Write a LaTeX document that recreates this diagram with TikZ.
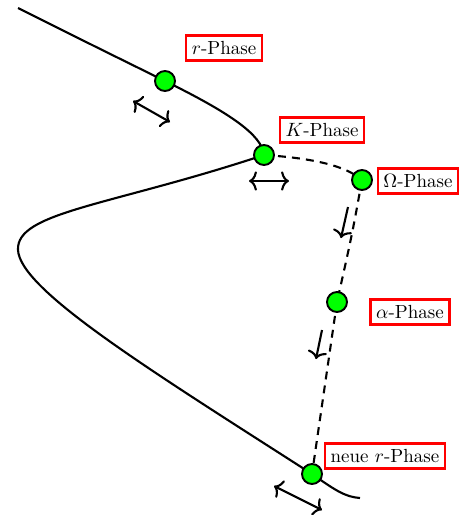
\documentclass[tikz,border=0pt]{standalone}
\usepackage{amsmath}
\usepackage{tikz}
\usetikzlibrary{arrows,arrows.meta}
\tikzstyle{phase} = [rectangle, draw=red, line width=1.3pt, fill=white, inner sep=3.3pt, font=\fontsize{10.8}{13}\selectfont]
\tikzstyle{state} = [circle, draw=black, line width=1.1pt, fill=green, minimum size=0.4cm, inner sep=0pt]
\tikzstyle{branch} = [line width=1.2pt]
\tikzstyle{jump} = [line width=1.2pt, dash pattern=on 4.5pt off 3.5pt]
\tikzstyle{arrow} = [line width=1.2pt, >={To[length=4.5pt,width=11pt]}]

\begin{document}
\begin{tikzpicture}[x=0.02cm, y=-0.02cm]
        \useasboundingbox (0,0) rectangle (462,515);
        \coordinate (rpt) at (165,81);
        \coordinate (kpt) at (264,155);
        \coordinate (opt) at (362,180);
        \coordinate (apt) at (337,302);
        \coordinate (npt) at (312,474);
        % solid S-curve and dashed jump, drawn first so the dots lie on top
        \draw [branch] (18,8) .. controls (90,44) .. (rpt)
                .. controls (230,113) and (262,135) .. (kpt)
                .. controls (110,206) and (16,212) .. (18,250)
                .. controls (20,290) and (150,370) .. (npt)
                .. controls (335,490) and (345,497) .. (360,498);
        \draw [jump] (kpt) .. controls (310,158) and (345,165) .. (opt);
        \draw [jump] (opt) .. controls (352,235) .. (apt);
        \draw [jump] (apt) -- (npt);
        \node(rdot) [state] at (rpt) {};
        \node(kdot) [state] at (kpt) {};
        \node(odot) [state] at (opt) {};
        \node(adot) [state] at (apt) {};
        \node(ndot) [state] at (npt) {};
        \node(rlab) [phase] at (224,48) {$r$-Phase};
        \node(klab) [phase] at (322,130) {$K$-Phase};
        \node(olab) [phase] at (418,181) {$\Omega$-Phase};
        \node(alab) [phase] at (410,312) {$\alpha$-Phase};
        \node(nlab) [phase] at (385,456) {neue $r$-Phase};
        % small arrows
        \coordinate (r1) at (133,101);
        \coordinate (r2) at (170,122);
        \coordinate (k1) at (249,181);
        \coordinate (k2) at (289,181);
        \coordinate (o1) at (348,207);
        \coordinate (o2) at (341,238);
        \coordinate (a1) at (322,330);
        \coordinate (a2) at (316,359);
        \coordinate (n1) at (274,486);
        \coordinate (n2) at (322,510);
        \draw [arrow,<->] (r1)--(r2);
        \draw [arrow,<->] (k1)--(k2);
        \draw [arrow,->] (o1)--(o2);
        \draw [arrow,->] (a1)--(a2);
        \draw [arrow,<->] (n1)--(n2);
    \end{tikzpicture}
\end{document}
